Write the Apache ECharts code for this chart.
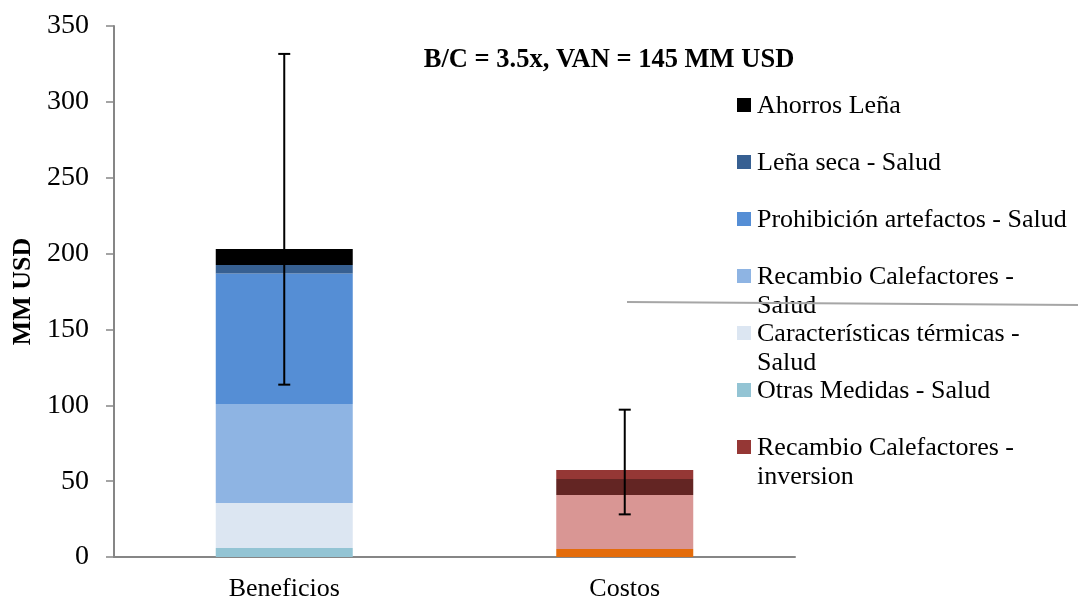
<!DOCTYPE html>
<html>
<head>
<meta charset="utf-8">
<script src="https://cdn.jsdelivr.net/npm/echarts@6/dist/echarts.min.js"></script>
<style>html,body{margin:0;padding:0;background:#fff}#c{width:1078px;height:600px}</style>
</head>
<body>
<div id="c"></div>
<script>
const categories = ['Beneficios', 'Costos'];
// Cost components (bottom to top in Costos stack)
const costoA = [0, 5.3];
const costoB = [0, 35.6];
const costoC = [0, 10.5];
const recambioInversion = [0, 5.9];
// Benefit components (bottom to top)
const otrasMedidas = [6.0, 0];
const caracteristicas = [29.6, 0];
const recambioSalud = [65.3, 0];
const prohibicion = [85.9, 0];
const lenaSeca = [5.7, 0];
const ahorrosLena = [10.5, 0];
// Error bars [low, high]
const errLow = [113.6, 28.1];
const errHigh = [331.6, 97.1];
const yTicks = [0, 50, 100, 150, 200, 250, 300, 350];

const serif = '"Liberation Serif","DejaVu Serif",serif';
const chart = echarts.init(document.getElementById('c'));

const colors = {
  'Costo A': '#E46C0A',
  'Costo B': '#D99694',
  'Costo C': '#632523',
  'Recambio Calefactores - inversion': '#953735',
  'Otras Medidas - Salud': '#93C4D4',
  'Características térmicas - Salud': '#DCE6F2',
  'Recambio Calefactores - Salud': '#8EB4E3',
  'Prohibición artefactos - Salud': '#558ED5',
  'Leña seca - Salud': '#376092',
  'Ahorros Leña': '#000000'
};

function bar(name, data) {
  return { name, type: 'bar', stack: 'total', data, barWidth: 137,
    itemStyle: { color: colors[name] }, emphasis: { disabled: true } };
}

const legendNames = ['Ahorros Leña', 'Leña seca - Salud', 'Prohibición artefactos - Salud',
  'Recambio Calefactores - Salud', 'Características térmicas - Salud', 'Otras Medidas - Salud',
  'Recambio Calefactores - inversion'];
const legendLabels = {
  'Recambio Calefactores - Salud': 'Recambio Calefactores -\nSalud',
  'Características térmicas - Salud': 'Características térmicas -\nSalud',
  'Recambio Calefactores - inversion': 'Recambio Calefactores -\ninversion'
};

const legendGraphics = [];
legendNames.forEach((n, i) => {
  const cy = 105 + 57 * i;
  legendGraphics.push({ type: 'rect', left: 737, top: cy - 7, shape: { width: 14, height: 14 },
    style: { fill: colors[n] } });
  legendGraphics.push({ type: 'text', x: 757, y: cy - 13,
    style: { text: legendLabels[n] || n, fontFamily: serif, fontSize: 26, lineHeight: 29,
      fill: '#000', verticalAlign: 'top', align: 'left' } });
});

chart.setOption({
  animation: false,
  title: {
    text: 'B/C = 3.5x, VAN = 145 MM USD',
    left: 604, top: 42, textAlign: 'center',
    textStyle: { fontFamily: serif, fontWeight: 'bold', fontSize: 26.5, color: '#000' }
  },
  grid: { left: 114, right: 283, top: 26, bottom: 43, outerBoundsMode: 'none', containLabel: false },
  xAxis: {
    type: 'category', data: categories,
    axisLine: { lineStyle: { color: '#868686', width: 2 } },
    axisTick: { length: 8, lineStyle: { color: '#868686', width: 1.5 } },
    axisLabel: { fontFamily: serif, fontSize: 26, color: '#000', margin: 19 }
  },
  yAxis: {
    type: 'value', min: 0, max: 350, interval: 50,
    name: 'MM USD', nameLocation: 'middle', nameGap: 74,
    nameTextStyle: { fontFamily: serif, fontWeight: 'bold', fontSize: 26, color: '#000' },
    axisLine: { show: true, lineStyle: { color: '#868686', width: 2 } },
    axisTick: { show: true, length: 8, lineStyle: { color: '#868686', width: 1.5 } },
    splitLine: { show: false },
    axisLabel: { fontFamily: serif, fontSize: 28, color: '#000', margin: 25,
      formatter: v => yTicks.includes(v) ? String(v) : '' }
  },
  series: [
    bar('Costo A', costoA),
    bar('Costo B', costoB),
    bar('Costo C', costoC),
    bar('Recambio Calefactores - inversion', recambioInversion),
    bar('Otras Medidas - Salud', otrasMedidas),
    bar('Características térmicas - Salud', caracteristicas),
    bar('Recambio Calefactores - Salud', recambioSalud),
    bar('Prohibición artefactos - Salud', prohibicion),
    bar('Leña seca - Salud', lenaSeca),
    bar('Ahorros Leña', ahorrosLena),
    {
      type: 'custom', name: 'err', z: 10,
      data: categories.map((c, i) => [i, errLow[i], errHigh[i]]),
      renderItem: (params, api) => {
        const lo = api.coord([api.value(0), api.value(1)]);
        const hi = api.coord([api.value(0), api.value(2)]);
        const w = 6;
        const st = { stroke: '#000', lineWidth: 2 };
        return { type: 'group', children: [
          { type: 'line', shape: { x1: lo[0], y1: lo[1], x2: hi[0], y2: hi[1] }, style: st },
          { type: 'line', shape: { x1: lo[0] - w, y1: lo[1], x2: lo[0] + w, y2: lo[1] }, style: st },
          { type: 'line', shape: { x1: hi[0] - w, y1: hi[1], x2: hi[0] + w, y2: hi[1] }, style: st }
        ]};
      }
    }
  ],
  graphic: legendGraphics.concat([{
    type: 'line', z: 100,
    shape: { x1: 627, y1: 302, x2: 1078, y2: 305 },
    style: { stroke: '#A6A6A6', lineWidth: 2 }
  }])
});
</script>
</body>
</html>
